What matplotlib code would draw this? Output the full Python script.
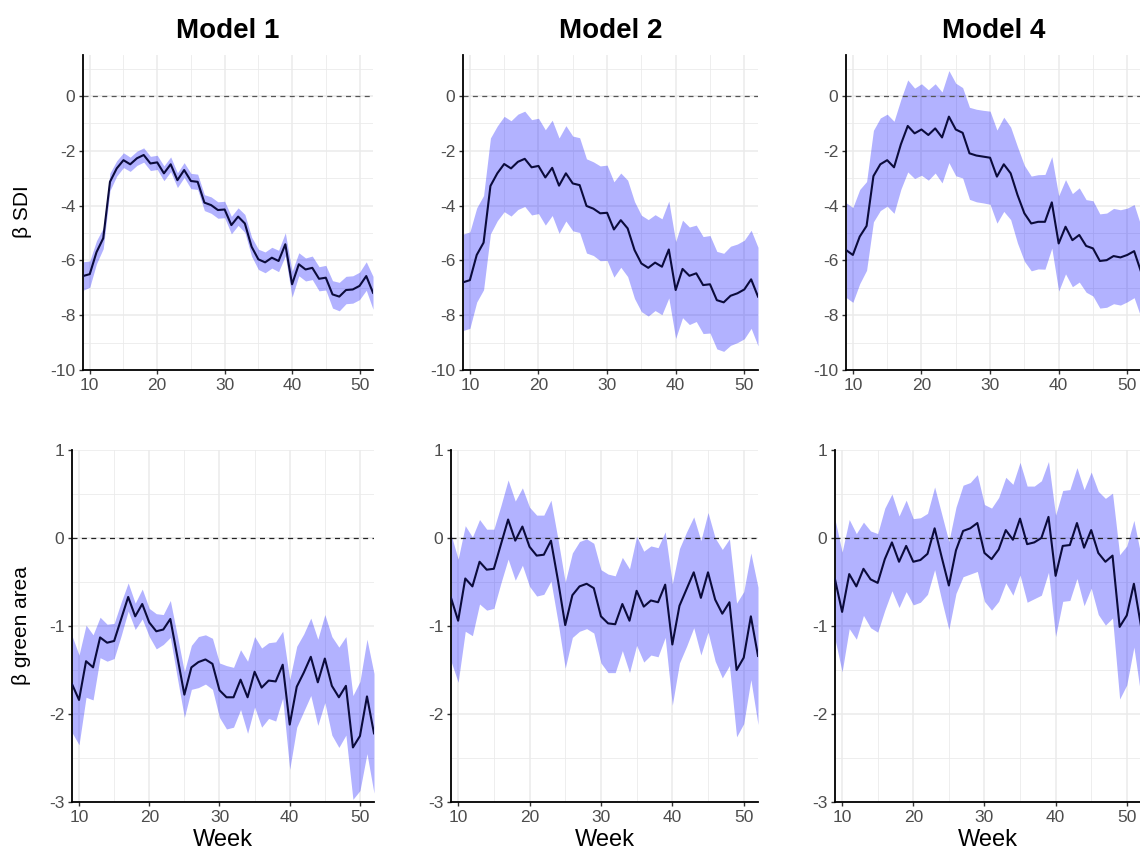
import numpy as np
import matplotlib
matplotlib.use('Agg')
import matplotlib.pyplot as plt
from matplotlib.ticker import MultipleLocator

plt.rcParams['font.family'] = ['Liberation Sans', 'DejaVu Sans']
plt.rcParams['axes.unicode_minus'] = False

weeks = list(range(9, 53))
models = ['Model 1', 'Model 2', 'Model 4']

# beta for SDI, estimate and half width of the interval, per week
sdi_m1 = [-6.57, -6.50, -5.70, -5.19, -3.13, -2.64, -2.34, -2.49, -2.27, -2.15, -2.46, -2.42,
          -2.82, -2.49, -3.07, -2.70, -3.10, -3.13, -3.89, -3.98, -4.16, -4.14, -4.71, -4.40,
          -4.65, -5.50, -5.96, -6.07, -5.90, -6.02, -5.41, -6.87, -6.14, -6.33, -6.27, -6.67,
          -6.63, -7.24, -7.32, -7.08, -7.06, -6.93, -6.57, -7.18]
sdi_m1_ci = [0.52, 0.48, 0.42, 0.38, 0.32, 0.28, 0.27, 0.26, 0.26, 0.26, 0.26, 0.26,
             0.27, 0.27, 0.27, 0.27, 0.28, 0.28, 0.29, 0.30, 0.30, 0.30, 0.32, 0.32,
             0.33, 0.35, 0.37, 0.38, 0.38, 0.39, 0.42, 0.47, 0.42, 0.42, 0.43, 0.44,
             0.45, 0.50, 0.52, 0.50, 0.50, 0.50, 0.52, 0.60]

sdi_m2 = [-6.80, -6.72, -5.80, -5.35, -3.28, -2.82, -2.48, -2.64, -2.40, -2.29, -2.60, -2.55,
          -2.97, -2.62, -3.27, -2.82, -3.19, -3.25, -4.01, -4.11, -4.28, -4.26, -4.87, -4.53,
          -4.83, -5.62, -6.11, -6.27, -6.08, -6.23, -5.60, -7.08, -6.31, -6.56, -6.47, -6.90,
          -6.87, -7.45, -7.53, -7.29, -7.20, -7.06, -6.69, -7.32]
sdi_m2_ci = [1.76, 1.76, 1.72, 1.72, 1.75, 1.73, 1.74, 1.74, 1.74, 1.74, 1.74, 1.74,
             1.74, 1.74, 1.74, 1.74, 1.73, 1.73, 1.72, 1.71, 1.73, 1.74, 1.74, 1.72,
             1.76, 1.77, 1.76, 1.76, 1.75, 1.75, 1.77, 1.77, 1.78, 1.78, 1.76, 1.77,
             1.78, 1.78, 1.79, 1.81, 1.80, 1.80, 1.79, 1.80]

sdi_m4 = [-5.62, -5.80, -5.13, -4.74, -2.92, -2.49, -2.34, -2.60, -1.76, -1.09, -1.36, -1.22,
          -1.42, -1.18, -1.51, -0.75, -1.22, -1.34, -2.09, -2.17, -2.21, -2.25, -2.94, -2.49,
          -2.82, -3.61, -4.28, -4.65, -4.59, -4.59, -3.88, -5.38, -4.77, -5.26, -5.07, -5.47,
          -5.56, -6.02, -5.99, -5.84, -5.89, -5.80, -5.66, -6.41]
sdi_m4_ci = [1.73, 1.73, 1.72, 1.62, 1.67, 1.69, 1.68, 1.68, 1.64, 1.68, 1.65, 1.67,
             1.65, 1.63, 1.66, 1.68, 1.69, 1.65, 1.68, 1.69, 1.69, 1.70, 1.70, 1.72,
             1.69, 1.76, 1.75, 1.73, 1.72, 1.73, 1.67, 1.74, 1.72, 1.70, 1.72, 1.69,
             1.74, 1.72, 1.72, 1.74, 1.74, 1.71, 1.70, 1.67]

# beta for green area
green_m1 = [-1.66, -1.84, -1.40, -1.47, -1.13, -1.19, -1.17, -0.92, -0.67, -0.89, -0.75, -0.96,
            -1.06, -1.04, -0.92, -1.35, -1.78, -1.47, -1.41, -1.38, -1.43, -1.73, -1.81, -1.81,
            -1.61, -1.81, -1.52, -1.70, -1.62, -1.63, -1.44, -2.12, -1.69, -1.53, -1.35, -1.64,
            -1.37, -1.68, -1.81, -1.68, -2.38, -2.25, -1.80, -2.22]
green_m1_ci = [0.55, 0.51, 0.41, 0.37, 0.23, 0.21, 0.20, 0.19, 0.16, 0.15, 0.17, 0.16,
               0.20, 0.17, 0.21, 0.24, 0.26, 0.25, 0.29, 0.28, 0.29, 0.31, 0.36, 0.34,
               0.34, 0.41, 0.40, 0.45, 0.43, 0.45, 0.38, 0.51, 0.46, 0.44, 0.44, 0.49,
               0.50, 0.56, 0.57, 0.56, 0.59, 0.62, 0.65, 0.68]

green_m2 = [-0.68, -0.94, -0.46, -0.55, -0.27, -0.36, -0.35, -0.07, 0.21, -0.03, 0.13, -0.10,
            -0.20, -0.19, -0.03, -0.49, -0.99, -0.65, -0.55, -0.52, -0.57, -0.89, -0.97, -0.98,
            -0.75, -0.94, -0.60, -0.78, -0.71, -0.73, -0.53, -1.21, -0.77, -0.58, -0.39, -0.68,
            -0.39, -0.70, -0.86, -0.73, -1.50, -1.36, -0.89, -1.34]
green_m2_ci = [0.72, 0.70, 0.60, 0.56, 0.48, 0.46, 0.45, 0.44, 0.45, 0.45, 0.44, 0.45,
               0.46, 0.45, 0.46, 0.47, 0.49, 0.48, 0.51, 0.51, 0.51, 0.53, 0.56, 0.55,
               0.53, 0.59, 0.62, 0.63, 0.62, 0.62, 0.60, 0.69, 0.65, 0.65, 0.63, 0.65,
               0.68, 0.70, 0.73, 0.72, 0.76, 0.75, 0.72, 0.78]

green_m4 = [-0.47, -0.84, -0.41, -0.55, -0.35, -0.47, -0.51, -0.24, -0.05, -0.27, -0.09, -0.27,
            -0.25, -0.18, 0.11, -0.22, -0.54, -0.14, 0.08, 0.11, 0.17, -0.17, -0.24, -0.13,
            0.09, -0.02, 0.22, -0.07, -0.05, 0.00, 0.24, -0.43, -0.09, -0.08, 0.17, -0.11,
            0.09, -0.17, -0.27, -0.20, -1.01, -0.88, -0.52, -1.00]
green_m4_ci = [0.68, 0.68, 0.62, 0.60, 0.53, 0.55, 0.56, 0.58, 0.55, 0.52, 0.52, 0.49,
               0.48, 0.46, 0.47, 0.49, 0.50, 0.49, 0.52, 0.52, 0.55, 0.55, 0.58, 0.59,
               0.60, 0.63, 0.64, 0.66, 0.64, 0.65, 0.63, 0.69, 0.63, 0.63, 0.63, 0.66,
               0.66, 0.70, 0.72, 0.71, 0.82, 0.79, 0.72, 0.80]

rows = [
    [(sdi_m1, sdi_m1_ci), (sdi_m2, sdi_m2_ci), (sdi_m4, sdi_m4_ci)],
    [(green_m1, green_m1_ci), (green_m2, green_m2_ci), (green_m4, green_m4_ci)],
]

W, H = 1140, 856
fig = plt.figure(figsize=(W / 100, H / 100), dpi=100)

def px_axes(left, top, right, bottom):
    return fig.add_axes([left / W, 1 - bottom / H, (right - left) / W, (bottom - top) / H])

# panel boxes in pixels: left, top, right, bottom
boxes = [
    [(83, 55, 373, 370), (463, 55, 758, 370), (846, 55, 1141, 370)],
    [(72, 450, 374, 802), (451, 450, 758, 802), (835, 450, 1141, 802)],
]
ylims = [(-10, 1.5), (-3, 1)]
ysteps = [(2, 1), (1, 0.5)]
zero_col = ['#555555', '#222222']

for r in range(2):
    for c in range(3):
        ax = px_axes(*boxes[r][c])
        est = np.array(rows[r][c][0])
        ci = np.array(rows[r][c][1])

        ax.fill_between(weeks, est - ci, est + ci, color='blue', alpha=0.3, lw=0, zorder=2)
        ax.plot(weeks, est, color='#0b0b3b', lw=1.5, zorder=3)
        ax.axhline(0, color=zero_col[r], lw=0.9, ls=(0, (4, 3.5)), zorder=2.5)

        ax.set_xlim(9, 52)
        ax.set_ylim(*ylims[r])
        ax.xaxis.set_major_locator(MultipleLocator(10))
        ax.xaxis.set_minor_locator(MultipleLocator(5))
        ax.yaxis.set_major_locator(MultipleLocator(ysteps[r][0]))
        ax.yaxis.set_minor_locator(MultipleLocator(ysteps[r][1]))

        ax.set_axisbelow(True)
        ax.grid(which='major', color='#ebebeb', lw=1.1)
        ax.grid(which='minor', color='#ebebeb', lw=0.6)

        for s in ['top', 'right']:
            ax.spines[s].set_visible(False)
        for s in ['left', 'bottom']:
            ax.spines[s].set_color('black')
            ax.spines[s].set_linewidth(1.3)

        ax.tick_params(which='major', length=3, width=1, color='#333333',
                       labelsize=12.5, labelcolor='#4d4d4d', pad=2.5)
        ax.tick_params(which='minor', length=0)

        if r == 0:
            ax.set_title(models[c], fontsize=20, fontweight='bold', pad=12)
        else:
            ax.set_xlabel('Week', fontsize=17, labelpad=3)

fig.text(22 / W, 1 - 212 / H, 'β SDI', rotation=90, ha='center', va='center', fontsize=15)
fig.text(22 / W, 1 - 626 / H, 'β green area', rotation=90, ha='center', va='center', fontsize=15)

fig.savefig('out.png', dpi=100)
